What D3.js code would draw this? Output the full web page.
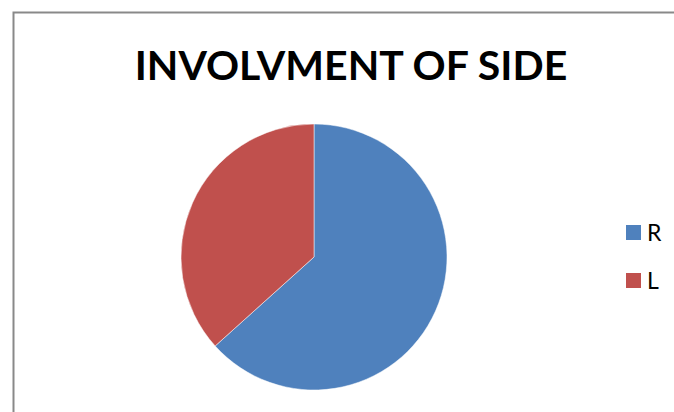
<!DOCTYPE html>
<html><head><meta charset="utf-8">
<script src="https://cdn.jsdelivr.net/npm/d3@7"></script>
<style>body{margin:0;background:#fff}svg{display:block}</style>
</head><body><div id="chart"></div>
<script>
const categories = ["R", "L"];
const values = [19, 11];
const colors = ["#4F81BD", "#C0504D"];
const title = "INVOLVMENT OF SIDE";

const W = 674, H = 412;
const svg = d3.select("#chart").append("svg").attr("width", W).attr("height", H);
svg.append("rect").attr("width", W).attr("height", H).attr("fill", "#fff");
// chart area border
svg.append("path").attr("d", `M13.5,${H} L13.5,12.5 L${W},12.5`)
  .attr("fill", "none").attr("stroke", "#898989").attr("stroke-width", 2);

svg.append("text").attr("x", 351).attr("y", 80).attr("text-anchor", "middle")
  .attr("font-family", "Lato, 'Open Sans', sans-serif").attr("font-weight", "bold")
  .attr("font-size", 41).attr("fill", "#000").text(title);

const cx = 314, cy = 257, r = 133;
const data = categories.map((c, i) => ({cat: c, value: values[i], color: colors[i]}));
const pie = d3.pie().sort(null).value(d => d.value);
const arc = d3.arc().innerRadius(0).outerRadius(r);
const g = svg.append("g").attr("transform", `translate(${cx},${cy})`);
g.selectAll("path").data(pie(data)).join("path")
  .attr("d", arc).attr("fill", d => d.data.color)
  .attr("stroke", "#fff").attr("stroke-width", 0.5);

const lg = svg.append("g");
const ly = d3.scalePoint().domain(categories).range([232.5, 280.5]);
const items = lg.selectAll("g").data(data).join("g")
  .attr("transform", d => `translate(626,${ly(d.cat)})`);
items.append("rect").attr("x", 0).attr("y", -7.5).attr("width", 15).attr("height", 15)
  .attr("fill", d => d.color);
items.append("text").attr("x", 21).attr("y", 8.5)
  .attr("font-family", "Lato, 'Open Sans', sans-serif").attr("font-size", 23)
  .attr("fill", "#000").text(d => d.cat);
</script></body></html>
